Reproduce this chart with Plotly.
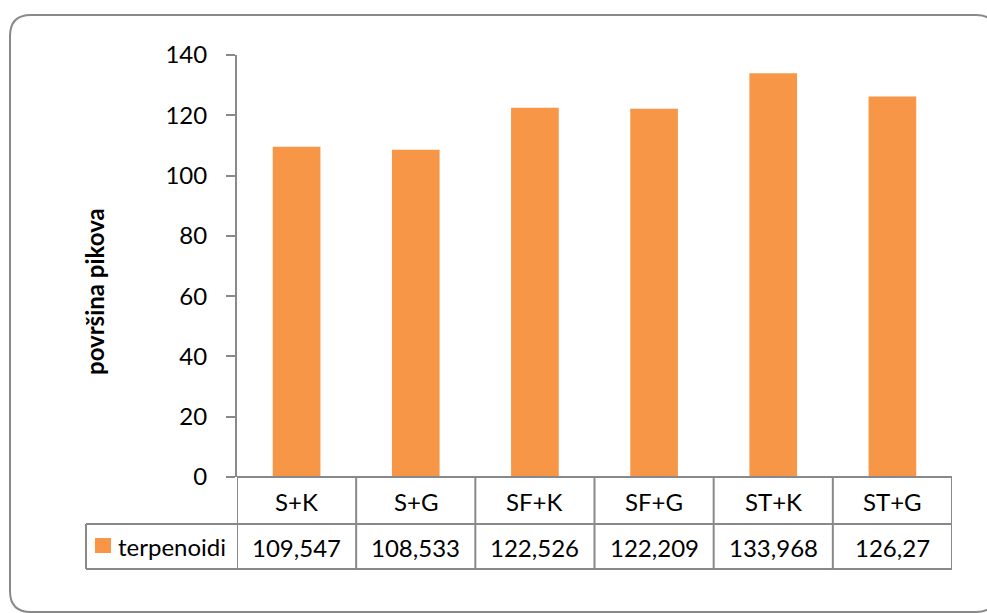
import plotly.graph_objects as go

# ---- data ----
categories = ["S+K", "S+G", "SF+K", "SF+G", "ST+K", "ST+G"]
values = [109.547, 108.533, 122.526, 122.209, 133.968, 126.27]
series_name = "terpenoidi"
y_title = "površina pikova"
y_ticks = [0, 20, 40, 60, 80, 100, 120, 140]

W, H = 987, 613
FONT = "Lato"
GRAY = "#898989"
ORANGE = "#F79646"
FS = 24


def px(x):
    return x / W


def py(y):
    return 1 - y / H


# plot area in pixels
X0, X1 = 237, 952
Y_TOP, Y_AX = 55, 477
ROW1_BOT, ROW2_BOT = 524, 569
LEG_X0 = 86

fig = go.Figure()
fig.add_trace(go.Bar(
    x=list(range(len(categories))), y=values, name=series_name,
    marker=dict(color=ORANGE, line=dict(width=0)), width=0.4,
    showlegend=False, hoverinfo="skip",
))

shapes = []
annotations = []

# rounded outer border
r = 21
bx0, bx1, by0, by1 = 10, 997, 15, 612
path = (
    f"M {px(bx0 + r)},{py(by0)} L {px(bx1 - r)},{py(by0)} "
    f"Q {px(bx1)},{py(by0)} {px(bx1)},{py(by0 + r)} "
    f"L {px(bx1)},{py(by1 - r)} Q {px(bx1)},{py(by1)} {px(bx1 - r)},{py(by1)} "
    f"L {px(bx0 + r)},{py(by1)} Q {px(bx0)},{py(by1)} {px(bx0)},{py(by1 - r)} "
    f"L {px(bx0)},{py(by0 + r)} Q {px(bx0)},{py(by0)} {px(bx0 + r)},{py(by0)} Z"
)
shapes.append(dict(type="path", xref="paper", yref="paper", path=path,
                   line=dict(color=GRAY, width=2), layer="below"))

# data table lines
n = len(categories)
line = dict(color=GRAY, width=2)
shapes.append(dict(type="line", xref="paper", yref="paper",
                   x0=px(X0), x1=px(X1), y0=py(Y_AX), y1=py(Y_AX), line=line))
for yy in (ROW1_BOT, ROW2_BOT):
    shapes.append(dict(type="line", xref="paper", yref="paper",
                       x0=px(LEG_X0), x1=px(X1), y0=py(yy), y1=py(yy), line=line))
shapes.append(dict(type="line", xref="paper", yref="paper",
                   x0=px(LEG_X0), x1=px(LEG_X0), y0=py(ROW1_BOT), y1=py(ROW2_BOT), line=line))
for i in range(n + 1):
    shapes.append(dict(type="line", xref="x", yref="paper",
                       x0=i - 0.5, x1=i - 0.5, y0=py(Y_AX), y1=py(ROW2_BOT), line=line))

# legend key
shapes.append(dict(type="rect", xref="paper", yref="paper",
                   x0=px(95), x1=px(111), y0=py(538), y1=py(553),
                   fillcolor=ORANGE, line=dict(width=0)))
annotations.append(dict(text=series_name, xref="paper", yref="paper",
                        x=px(116), y=py(546), xanchor="left", yanchor="middle",
                        showarrow=False, font=dict(family=FONT, size=FS, color="#000")))

# table text
for i, (c, v) in enumerate(zip(categories, values)):
    annotations.append(dict(text=c, xref="x", yref="paper", x=i, y=py(501),
                            xanchor="center", yanchor="middle", showarrow=False,
                            font=dict(family=FONT, size=FS, color="#000")))
    annotations.append(dict(text=f"{v:g}".replace(".", ","), xref="x", yref="paper",
                            x=i, y=py(547), xanchor="center", yanchor="middle",
                            showarrow=False, font=dict(family=FONT, size=FS, color="#000")))

# y axis title
annotations.append(dict(text=f"<b>{y_title}</b>", xref="paper", yref="paper",
                        x=px(95), y=py(292), xanchor="center", yanchor="middle",
                        textangle=-90, showarrow=False,
                        font=dict(family=FONT, size=24, color="#000")))

fig.update_layout(
    width=W, height=H,
    margin=dict(l=0, r=0, t=0, b=0, pad=0, autoexpand=False),
    paper_bgcolor="white", plot_bgcolor="white",
    xaxis=dict(domain=[px(X0), px(X1)], range=[-0.5, n - 0.5],
               showticklabels=False, showgrid=False, zeroline=False,
               showline=False, ticks="", fixedrange=True, automargin=False),
    yaxis=dict(domain=[py(Y_AX), py(Y_TOP)], range=[0, 140],
               tickvals=y_ticks, ticks="outside", ticklen=9, tickwidth=2,
               tickcolor=GRAY, showline=True, linecolor=GRAY, linewidth=2,
               showgrid=False, zeroline=False, ticklabelstandoff=14, automargin=False,
               tickfont=dict(family=FONT, size=FS, color="#000"), fixedrange=True),
    shapes=shapes, annotations=annotations,
)

fig.write_html("out.html", config={"displayModeBar": False},
               post_script="document.body.style.margin='0';document.body.style.overflow='hidden';")
